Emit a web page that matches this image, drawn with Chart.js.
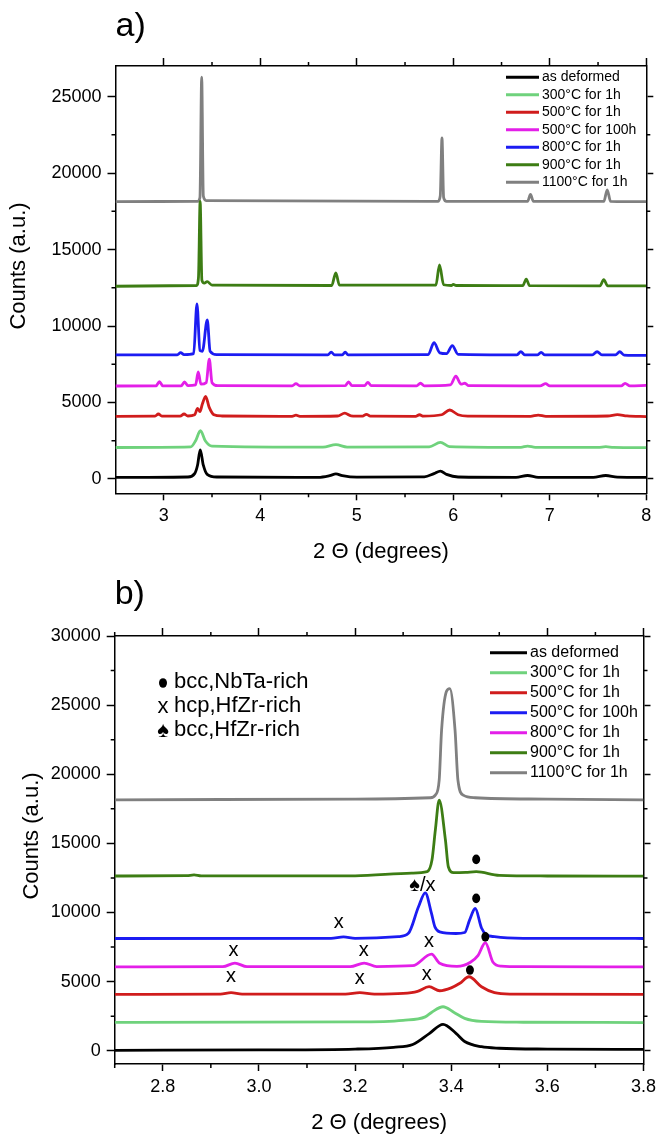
<!DOCTYPE html>
<html>
<head>
<meta charset="utf-8">
<title>XRD patterns a) and b)</title>
<script src="https://cdn.jsdelivr.net/npm/chart.js@4.4.0/dist/chart.umd.min.js"></script>
<style>
body { margin: 0; background: #fff; }
canvas { display: block; }
</style>
</head>
<body>
<canvas id="ChartA" width="661" height="568"></canvas>
<canvas id="ChartB" width="661" height="568"></canvas>
<script>
//axis ticks for the two panels
const xTicksA = [3, 4, 5, 6, 7, 8];
const xTickLabelsA = ["3", "4", "5", "6", "7", "8"];
const xMinorA = [3.5, 4.5, 5.5, 6.5, 7.5];
const yTicksA = [0, 5000, 10000, 15000, 20000, 25000];
const yMinorA = [2500, 7500, 12500, 17500, 22500];

const xTicksB = [2.8, 3.0, 3.2, 3.4, 3.6, 3.8];
const xTickLabelsB = ["2.8", "3.0", "3.2", "3.4", "3.6", "3.8"];
const xMinorB = [2.7, 2.9, 3.1, 3.3, 3.5, 3.7];
const yTicksB = [0, 5000, 10000, 15000, 20000, 25000, 30000];
const yMinorB = [2500, 7500, 12500, 17500, 22500, 27500];

//legend labels (panel b swaps the 500/100h and 800 names, as in the figure)
const labelsA = ["as deformed", "300°C for 1h", "500°C for 1h", "500°C for 100h", "800°C for 1h", "900°C for 1h", "1100°C for 1h"];
const labelsB = ["as deformed", "300°C for 1h", "500°C for 1h", "500°C for 100h", "800°C for 1h", "900°C for 1h", "1100°C for 1h"];
const colorsA = ["#000000", "#6fd27c", "#d01c1c", "#e31fe8", "#1c1cf2", "#3d7d14", "#808080"];
const colorsB = ["#000000", "#6fd27c", "#d01c1c", "#1c1cf2", "#e31fe8", "#3d7d14", "#808080"];

//panel a) patterns, [2theta, counts]
const aDeformed = [[2.5,100],[3.25,130],[3.32,350],[3.35,900],[3.378,1900],[3.41,900],[3.45,300],[3.55,130],[4.6,110],[4.72,220],[4.784,330],[4.85,220],[5.0,120],[5.7,140],[5.8,350],[5.867,520],[5.93,300],[6.05,130],[6.65,110],[6.77,230],[6.88,110],[7.45,110],[7.58,230],[7.7,120],[8,100]];
const a300 = [[2.5,2060],[3.28,2100],[3.33,2500],[3.38,3160],[3.43,2500],[3.5,2150],[4.65,2080],[4.784,2250],[4.9,2090],[5.75,2100],[5.867,2400],[5.96,2120],[6.7,2070],[6.77,2150],[6.85,2070],[7.5,2070],[7.58,2110],[7.66,2070],[8,2050]];
const a500 = [[2.5,4100],[2.91,4110],[2.944,4250],[2.98,4110],[3.17,4110],[3.21,4250],[3.25,4120],[3.32,4200],[3.351,4620],[3.375,4400],[3.40,4900],[3.434,5400],[3.47,4700],[3.52,4200],[3.6,4120],[4.33,4100],[4.37,4170],[4.41,4100],[4.80,4120],[4.876,4300],[4.94,4130],[5.06,4110],[5.10,4230],[5.14,4110],[5.61,4100],[5.65,4200],[5.69,4110],[5.88,4200],[5.963,4510],[6.05,4200],[6.15,4110],[6.8,4100],[6.88,4180],[6.96,4100],[7.6,4120],[7.7,4210],[7.8,4120],[8,4080]];
const a500long = [[2.5,6080],[2.92,6090],[2.955,6360],[2.99,6090],[3.18,6090],[3.215,6340],[3.25,6100],[3.33,6150],[3.357,7000],[3.385,6200],[3.44,6300],[3.472,7830],[3.50,6300],[3.56,6100],[4.33,6090],[4.37,6230],[4.41,6090],[4.88,6100],[4.915,6350],[4.95,6100],[5.08,6100],[5.115,6320],[5.15,6100],[5.62,6090],[5.66,6260],[5.70,6090],[5.97,6150],[6.027,6720],[6.08,6200],[6.12,6260],[6.16,6100],[6.9,6090],[6.957,6230],[7.0,6090],[7.74,6090],[7.78,6250],[7.83,6090],[8,6120]];
const a800 = [[2.5,8120],[3.14,8120],[3.175,8260],[3.21,8130],[3.31,8200],[3.344,11440],[3.375,8400],[3.40,8350],[3.451,10400],[3.48,8350],[3.55,8130],[4.70,8110],[4.735,8300],[4.77,8110],[4.85,8110],[4.88,8300],[4.91,8110],[5.74,8130],[5.80,8910],[5.86,8250],[5.93,8200],[5.99,8720],[6.05,8150],[6.66,8120],[6.70,8320],[6.74,8120],[6.87,8110],[6.91,8280],[6.95,8110],[7.44,8110],[7.49,8320],[7.54,8110],[7.68,8110],[7.725,8320],[7.77,8100],[8,8080]];
const a900 = [[2.5,12600],[3.34,12650],[3.36,13200],[3.377,18150],[3.395,13000],[3.42,12800],[3.45,12900],[3.5,12680],[4.74,12650],[4.783,13480],[4.82,12670],[5.82,12680],[5.857,13990],[5.9,12700],[5.98,12650],[6.0,12720],[6.03,12650],[6.72,12640],[6.756,13070],[6.79,12640],[7.52,12630],[7.559,13030],[7.6,12630],[8,12620]];
const a1100 = [[2.5,18130],[3.35,18150],[3.375,18400],[3.393,26270],[3.41,18500],[3.44,18200],[5.84,18150],[5.865,18500],[5.883,22300],[5.90,18400],[5.93,18150],[6.77,18150],[6.80,18600],[6.83,18150],[7.56,18150],[7.595,18900],[7.63,18150],[8,18130]];

//panel b) zoom around the main peak
const bDeformed = [[2.7,30],[3.0,60],[3.2,120],[3.28,250],[3.32,450],[3.355,1260],[3.383,1910],[3.41,1260],[3.428,670],[3.463,290],[3.5,180],[3.6,120],[3.8,100]];
const b300 = [[2.7,2050],[3.2,2080],[3.30,2200],[3.346,2450],[3.359,2770],[3.383,3180],[3.406,2770],[3.428,2340],[3.463,2120],[3.55,2060],[3.8,2040]];
const b500 = [[2.7,4080],[2.92,4090],[2.942,4200],[2.965,4090],[3.18,4090],[3.21,4200],[3.24,4100],[3.30,4150],[3.33,4300],[3.354,4630],[3.376,4340],[3.40,4550],[3.418,4880],[3.437,5350],[3.463,4630],[3.49,4200],[3.524,4100],[3.8,4070]];
const bBlue = [[2.7,8120],[3.15,8130],[3.176,8240],[3.20,8130],[3.29,8250],[3.311,8490],[3.332,10410],[3.346,11420],[3.359,9930],[3.366,8970],[3.376,8600],[3.41,8480],[3.428,8550],[3.438,9430],[3.450,10290],[3.463,8880],[3.473,8400],[3.49,8250],[3.55,8130],[3.8,8120]];
const bMagenta = [[2.7,6070],[2.925,6080],[2.950,6340],[2.975,6080],[3.19,6080],[3.219,6340],[3.245,6090],[3.32,6150],[3.359,6990],[3.376,6320],[3.412,6100],[3.44,6400],[3.456,6900],[3.471,7810],[3.487,6400],[3.504,6120],[3.55,6080],[3.8,6070]];
const b900 = [[2.7,12640],[2.85,12660],[2.865,12720],[2.88,12650],[3.2,12650],[3.318,12850],[3.350,12950],[3.360,13790],[3.367,15960],[3.375,18130],[3.388,15240],[3.394,13310],[3.405,12880],[3.43,12900],[3.452,12950],[3.5,12690],[3.6,12640],[3.8,12630]];
const b1100 = [[2.7,18150],[3.2,18200],[3.357,18300],[3.367,18490],[3.375,19570],[3.380,23190],[3.390,25980],[3.397,26200],[3.408,23190],[3.414,19570],[3.425,18490],[3.45,18300],[3.6,18200],[3.8,18150]];

//phase marks on panel b curves ("dot" = filled bcc marker)
const noteX = [3.452, 3.340, 3.452, 3.166, 3.471, 2.947, 3.218, 3.354, 2.942, 3.210, 3.349, 3.439];
const noteY = [13840, 11980, 11020, 9250, 8240, 7230, 7230, 7930, 5350, 5230, 5545, 5835];
const noteText = ["dot", "♠/x", "dot", "x", "dot", "x", "x", "x", "x", "x", "x", "dot"];
const keySymbols = ["dot", "x", "♠"];
const keyText = ["bcc,NbTa-rich", "hcp,HfZr-rich", "bcc,HfZr-rich"];

const FONT = '"Liberation Sans", Arial, sans-serif';
Chart.defaults.font.family = FONT;
Chart.defaults.color = "#000";

function toPts(arr)
{
	return arr.map(function(p) { return {x: p[0], y: p[1]}; });
}

//a symbol: either the round bcc dot or a text glyph
function drawSymbol(ctx, s, x, y, size)
{
	if (s === "dot")
	{
		ctx.beginPath();
		ctx.ellipse(x, y, 4, 4.8, 0, 0, Math.PI * 2);
		ctx.fill();
	}
	else
	{
		ctx.font = size + "px " + FONT;
		ctx.fillText(s, x, y);
	}
}

//draws minor ticks, the legend box and all the loose text
const extrasPlugin = {
	id: "extras",
	afterDraw: function(chart, args, o)
	{
		var ctx = chart.ctx, a = chart.chartArea;
		var sx = chart.scales.x, sy = chart.scales.y;
		ctx.save();

		//minor ticks on all four sides
		ctx.strokeStyle = "#000";
		ctx.lineWidth = 1.5;
		ctx.beginPath();
		o.xMinor.forEach(function(v) {
			var px = sx.getPixelForValue(v);
			ctx.moveTo(px, a.bottom); ctx.lineTo(px, a.bottom + 4);
			ctx.moveTo(px, a.top); ctx.lineTo(px, a.top - 4);
		});
		o.yMinor.forEach(function(v) {
			var py = sy.getPixelForValue(v);
			ctx.moveTo(a.left, py); ctx.lineTo(a.left - 4, py);
			ctx.moveTo(a.right, py); ctx.lineTo(a.right + 4, py);
		});
		ctx.stroke();

		//legend
		ctx.font = o.legendFont + "px " + FONT;
		ctx.textAlign = "left";
		ctx.textBaseline = "middle";
		chart.data.datasets.forEach(function(ds, i) {
			var y = o.legendY + i * o.legendStep;
			ctx.strokeStyle = ds.borderColor;
			ctx.lineWidth = 3;
			ctx.beginPath();
			ctx.moveTo(o.legendX0, y); ctx.lineTo(o.legendX1, y);
			ctx.stroke();
			ctx.fillStyle = "#000";
			ctx.fillText(ds.label, o.legendX1 + 3, y);
		});

		//panel letter
		ctx.font = "34px " + FONT;
		ctx.textBaseline = "alphabetic";
		ctx.fillText(o.panel, a.left, 36);

		//axis titles
		ctx.font = "22px " + FONT;
		ctx.textAlign = "center";
		ctx.textBaseline = "middle";
		ctx.fillText("2 Θ (degrees)", (a.left + a.right) / 2, o.xTitleY);
		ctx.save();
		ctx.translate(o.yTitleX, o.yTitleY);
		ctx.rotate(-Math.PI / 2);
		ctx.fillText("Counts (a.u.)", 0, 0);
		ctx.restore();

		//phase key and marks (panel b only)
		if (o.key)
		{
			keyText.forEach(function(t, i) {
				var y = 114 + i * 24;
				ctx.textAlign = "center";
				drawSymbol(ctx, keySymbols[i], 163, y + 1, 22);
				ctx.textAlign = "left";
				ctx.font = "22px " + FONT;
				ctx.fillText(t, 174, y);
			});
			ctx.textAlign = "center";
			noteText.forEach(function(t, i) {
				drawSymbol(ctx, t, sx.getPixelForValue(noteX[i]), sy.getPixelForValue(noteY[i]), 20);
			});
		}
		ctx.restore();
	}
};

function axis(pos, min, max, ticks, labels, showLabels, size, tickLen)
{
	return {
		type: "linear",
		position: pos,
		min: min,
		max: max,
		afterBuildTicks: function(s) { s.ticks = ticks.map(function(v) { return {value: v}; }); },
		afterFit: function(s) {
			if (pos === "left" || pos === "right") s.width = size; else s.height = size;
		},
		ticks: {
			display: showLabels,
			autoSkip: false,
			maxRotation: 0,
			padding: (pos === "left") ? 6 : 5,
			font: {size: 18},
			color: "#000",
			callback: function(v, i) { return labels[i]; }
		},
		grid: {drawOnChartArea: false, drawTicks: true, tickLength: tickLen, tickWidth: 1.5, tickColor: "#000"},
		border: {display: true, color: "#000", width: 1.5}
	};
}

function PlotPanel(canvID, series, labels, colors, c)
{
	var datasets = series.map(function(s, i) {
		return {
			label: labels[i],
			data: toPts(s),
			borderColor: colors[i],
			borderWidth: 2.8,
			pointRadius: 0,
			fill: false,
			cubicInterpolationMode: "monotone"
		};
	});
	var yLabels = c.yTicks.map(String);

	new Chart(canvID,
	{
		type: "line",
		data: {datasets: datasets},
		options:
		{
			responsive: false,
			animation: false,
			layout: {padding: 0},
			plugins: {
				legend: {display: false},
				tooltip: {enabled: false},
				extras: c.extras
			},
			scales: {
				x: axis("bottom", c.xMin, c.xMax, c.xTicks, c.xLabels, true, 568 - c.bottom, 7),
				x2: axis("top", c.xMin, c.xMax, c.xTicks, c.xLabels, false, c.top, 8),
				y: axis("left", c.yMin, c.yMax, c.yTicks, yLabels, true, c.left, 8),
				y2: axis("right", c.yMin, c.yMax, c.yTicks, yLabels, false, 661 - c.right, 7)
			}
		},
		plugins: [extrasPlugin]
	});
}

PlotPanel("ChartA", [aDeformed, a300, a500, a500long, a800, a900, a1100], labelsA, colorsA, {
	xMin: 2.5, xMax: 8, yMin: -935, yMax: 27000,
	xTicks: xTicksA, xLabels: xTickLabelsA, yTicks: yTicksA,
	left: 115.5, right: 646.3, top: 66, bottom: 493.3,
	extras: {
		panel: "a)", xMinor: xMinorA, yMinor: yMinorA,
		legendX0: 506, legendX1: 539, legendY: 77.3, legendStep: 17.5, legendFont: 14,
		xTitleY: 552, yTitleX: 19, yTitleY: 266
	}
});

PlotPanel("ChartB", [bDeformed, b300, b500, bBlue, bMagenta, b900, b1100], labelsB, colorsB, {
	xMin: 2.7, xMax: 3.8, yMin: -960, yMax: 30000,
	xTicks: xTicksB, xLabels: xTickLabelsB, yTicks: yTicksB,
	left: 114.7, right: 646.3, top: 68, bottom: 496,
	extras: {
		panel: "b)", xMinor: xMinorB, yMinor: yMinorB,
		legendX0: 490, legendX1: 527, legendY: 84.7, legendStep: 20, legendFont: 16,
		xTitleY: 555, yTitleX: 32, yTitleY: 268,
		key: true
	}
});
</script>
</body>
</html>
